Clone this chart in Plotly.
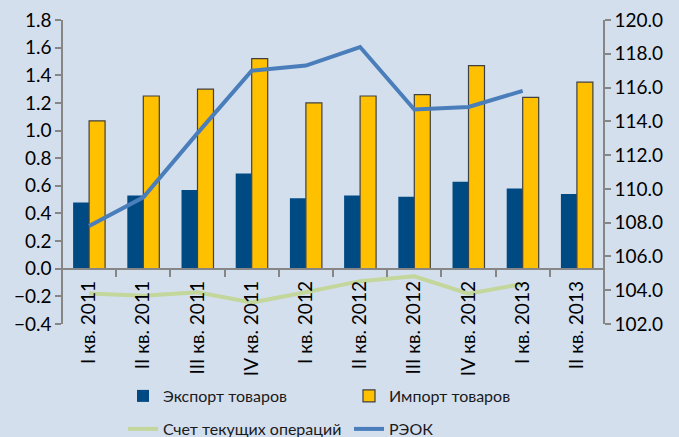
import plotly.graph_objects as go

# quarters and values
quarters = ["I кв. 2011", "II кв. 2011", "III кв. 2011", "IV кв. 2011",
            "I кв. 2012", "II кв. 2012", "III кв. 2012", "IV кв. 2012",
            "I кв. 2013", "II кв. 2013"]
export_goods = [0.48, 0.53, 0.57, 0.69, 0.51, 0.53, 0.52, 0.63, 0.58, 0.54]
import_goods = [1.07, 1.25, 1.30, 1.52, 1.20, 1.25, 1.26, 1.47, 1.24, 1.35]
current_account = [-0.18, -0.195, -0.17, -0.245, -0.17, -0.09, -0.055, -0.18, -0.11, None]
reer = [107.8, 109.5, 113.3, 117.0, 117.3, 118.4, 114.7, 114.85, 115.8, None]

bg = "#D4DFEE"
axis_col = "#868686"
font_name = "Lato"

fig = go.Figure()

fig.add_trace(go.Bar(x=quarters, y=export_goods, name="Экспорт товаров",
                     marker_color="#004A84", marker_line_width=0,
                     legend="legend"))
fig.add_trace(go.Bar(x=quarters, y=import_goods, name="Импорт товаров",
                     marker_color="#FFC000",
                     marker_line=dict(color="#404040", width=1.2),
                     legend="legend"))
fig.add_trace(go.Scatter(x=quarters, y=current_account, name="Счет текущих операций",
                         mode="lines", line=dict(color="#C3D69B", width=4),
                         legend="legend2"))
fig.add_trace(go.Scatter(x=quarters, y=reer, name="РЭОК", yaxis="y2",
                         mode="lines", line=dict(color="#4A7EBB", width=4),
                         legend="legend2"))

tickfont = dict(family=font_name, size=19, color="#000000")
legfont = dict(family=font_name, size=16, color="#1a1a1a")

fig.update_layout(
    width=679, height=437,
    margin=dict(l=62, r=75, t=20, b=113, autoexpand=False),
    paper_bgcolor=bg, plot_bgcolor=bg,
    barmode="group", bargap=0.41, bargroupgap=0,
    font=dict(family=font_name, color="#000000"),
    xaxis=dict(
        type="category", anchor="free", position=0.4 / 2.2,
        showline=True, linecolor=axis_col, linewidth=1.5,
        tickson="boundaries", ticks="outside", ticklen=8, tickcolor=axis_col,
        tickwidth=1.5, tickangle=-90, tickfont=tickfont, showgrid=False,
        ticklabelstandoff=4, automargin=False,
    ),
    yaxis=dict(
        range=[-0.4, 1.8], dtick=0.2, tickformat=".1f",
        anchor="free", position=0, automargin=False,
        showline=True, linecolor=axis_col, linewidth=1.5,
        ticks="outside", ticklen=6, tickcolor=axis_col, tickwidth=1.5,
        showgrid=False, zeroline=False, tickfont=tickfont,
    ),
    yaxis2=dict(
        range=[102, 120], dtick=2, tickformat=".1f",
        overlaying="y", side="right", anchor="free", position=1,
        automargin=False,
        showline=True, linecolor=axis_col, linewidth=1.5,
        ticks="outside", ticklen=6, tickcolor=axis_col, tickwidth=1.5,
        showgrid=False, zeroline=False, tickfont=tickfont,
    ),
    legend=dict(
        orientation="h", x=(123 - 62) / 542, xanchor="left",
        yref="container", y=1 - 396 / 437, yanchor="middle",
        entrywidth=181, bgcolor="rgba(0,0,0,0)", font=legfont,
    ),
    legend2=dict(
        orientation="h", x=(123 - 62) / 542, xanchor="left",
        yref="container", y=1 - 429 / 437, yanchor="middle",
        entrywidth=181, bgcolor="rgba(0,0,0,0)", font=legfont,
    ),
)

# the page body has a default 8px margin; drop it so the chart fills the window
fig.write_html("out.html", config={"displayModeBar": False},
               post_script="document.body.style.margin='0';")
